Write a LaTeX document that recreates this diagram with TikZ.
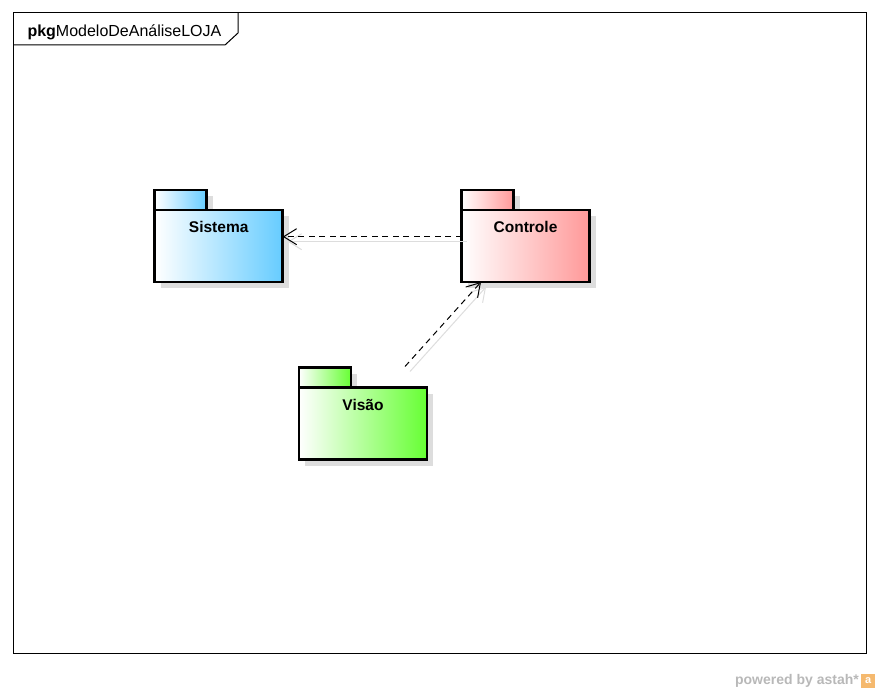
\documentclass[tikz,border=0pt]{standalone}
\usepackage{fontspec}
\setmainfont{Liberation Sans}
\usetikzlibrary{arrows.meta, positioning, shadows}
\definecolor{sysblue}{RGB}{102, 204, 255}
\definecolor{ctrlred}{RGB}{255, 153, 153}
\definecolor{visgreen}{RGB}{102, 255, 51}
\definecolor{shadegray}{RGB}{221, 221, 221}
\definecolor{astahorange}{RGB}{245, 185, 110}
\tikzset{
  pkgshadow/.style={drop shadow={shadow xshift=6pt, shadow yshift=-6pt, fill=shadegray, opacity=1}},
  pkgtab/.style={draw, line width=2.8pt, minimum width=52pt, minimum height=20pt, inner sep=0pt, outer sep=0pt, anchor=south west, pkgshadow},
  pkgbody/.style={draw, line width=2.8pt, minimum width=128pt, inner sep=0pt, outer sep=0pt, text height=22.7pt, text depth=49.3pt, font=\bfseries\fontsize{15.5}{18}\selectfont, pkgshadow},
  dep/.style={line width=1pt, dash pattern=on 6pt off 4.5pt, -{Straight Barb[length=13pt, width=16pt, line width=1pt]}},
  depshadow/.style={shadegray, line width=1pt, -{Straight Barb[length=13pt, width=16pt, line width=1pt]}, transform canvas={xshift=5pt, yshift=-5pt}}
}

\begin{document}
\begin{tikzpicture}[x=1pt, y=-1pt]
  \useasboundingbox (0,0) rectangle (880,693);

  \draw[line width=1pt] (13,13) rectangle (866,653);
  \draw[line width=1pt] (13,45) -- (225,45) -- (238,33) -- (238,13);
  \node[anchor=base west, inner sep=0pt, font=\fontsize{16}{19}\selectfont] (frameLabel) at (27.3,36.7) {\textbf{pkg}ModeloDeAnáliseLOJA};

  \node[pkgtab, left color=white, right color=sysblue] (sistemaTab) at (154.7,210) {};
  \node[pkgbody, left color=white, right color=sysblue, below right=0pt and 0pt of sistemaTab.south west] (sistema) {Sistema};

  \node[pkgtab, left color=white, right color=ctrlred] (controleTab) at (461.5,210) {};
  \node[pkgbody, left color=white, right color=ctrlred, below right=0pt and 0pt of controleTab.south west] (controle) {Controle};

  \node[pkgtab, left color=white, right color=visgreen] (visaoTab) at (299,387.5) {};
  \node[pkgbody, left color=white, right color=visgreen, below right=0pt and 0pt of visaoTab.south west] (visao) {Visão};

  \coordinate (visaoOut) at ([shift={(42,-21)}]visao.north);
  \coordinate (controleIn) at ([xshift=-44.5pt]controle.south);

  \draw[depshadow] ([yshift=9.3pt]controle.west) -- ([yshift=9.3pt]sistema.east);
  \draw[depshadow] (visaoOut) -- (controleIn);
  \draw[dep] ([yshift=9.3pt]controle.west) -- ([yshift=9.3pt]sistema.east);
  \draw[dep] (visaoOut) -- (controleIn);

  \node[anchor=base east, inner sep=0pt, text=black!28, font=\bfseries\fontsize{14}{16}\selectfont] (powered) at (859,684.5) {powered by astah*};
  \node[fill=astahorange, minimum size=14pt, inner sep=0pt, anchor=west, text=white, font=\bfseries\fontsize{11}{12}\selectfont] (astahLogo) at ([xshift=2pt, yshift=4pt]powered.base east) {a};
\end{tikzpicture}
\end{document}
